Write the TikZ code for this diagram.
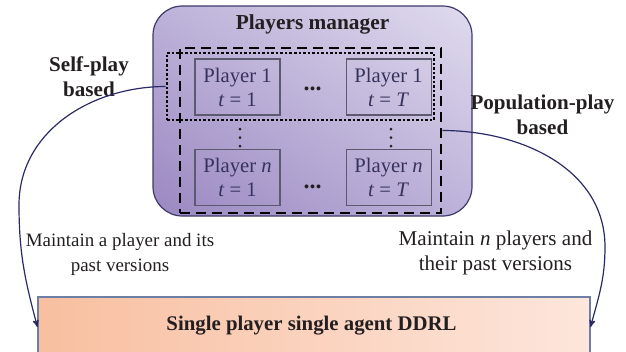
\documentclass[tikz,border=0pt]{standalone}
\usepackage{fontspec}
\setmainfont{Liberation Serif}
\usepackage{xcolor}
\usetikzlibrary{arrows}
\usetikzlibrary{positioning}
\usetikzlibrary{shadings}
\definecolor{mgrdark}{HTML}{9A87C1}
\definecolor{mgrmid}{HTML}{BDB2D9}
\definecolor{mgrlight}{HTML}{E0DBEE}
\definecolor{mgrborder}{HTML}{3E3A6B}
\definecolor{plgrey}{HTML}{5C5A6E}
\definecolor{pltext}{HTML}{35325C}
\definecolor{txtdark}{HTML}{231F20}
\definecolor{arrnavy}{HTML}{2A2A66}
\definecolor{ddrlleft}{HTML}{F8BFA0}
\definecolor{ddrlright}{HTML}{FDE6DC}
\definecolor{ddrlborder}{HTML}{6E7FA6}

\begin{document}
\begin{tikzpicture}[x=0.75pt,y=0.75pt,>=stealth',
  player/.style={rectangle,draw=plgrey,line width=0.8pt,minimum width=63.75pt,
    minimum height=42pt,align=center,text=pltext,inner sep=0pt,
    font=\fontsize{15.5}{18}\selectfont},
  side label/.style={align=center,text=txtdark,
    font=\fontsize{15.8}{18.75}\selectfont\bfseries},
  note/.style={align=center,text=txtdark,font=\fontsize{15.8}{18.75}\selectfont},
  dots/.style={text=txtdark,font=\fontsize{18}{18}\selectfont\bfseries},
  link/.style={->,draw=arrnavy,line width=0.9pt}]
  \useasboundingbox (0,-351) rectangle (626,0);
  \clip (0,-351) rectangle (626,0);

  % players manager
  \node[rectangle,rounded corners=22pt,draw=mgrborder,line width=0.9pt,
    upper left=mgrmid,upper right=mgrlight,lower left=mgrdark,lower right=mgrmid,
    minimum width=239.25pt,minimum height=157.5pt] (mgr) at (312.5,-111) {};
  \node[text=txtdark,font=\fontsize{16}{19}\selectfont\bfseries] (title) at (312.5,-24) {Players manager};

  \node[player] (p11) at (237.5,-87) {Player 1\\\textit{t} = 1};
  \node[player] (p1T) [right=48.75pt of p11] {Player 1\\\textit{t} = \textit{T}};
  \node[player] (pn1) [below=24.75pt of p11] {Player \textit{n}\\\textit{t} = 1};
  \node[player] (pnT) [right=48.75pt of pn1] {Player \textit{n}\\\textit{t} = \textit{T}};

  \node[dots,anchor=base] (hdots1) at (312.5,-90) {...};
  \node[dots,anchor=base] (hdots2) at (312.5,-188) {...};
  % vertical dots
  \foreach \x in {240,391}
    \foreach \y in {-129,-137.5,-146}
      \fill[txtdark] (\x,\y) circle (1.5);

  % self-play and population-play groups
  \node[rectangle,draw=black,line width=2pt,dash pattern=on 1.9pt off 1.5pt,
    minimum width=200.25pt,minimum height=50.25pt] (selfbox) at (300.5,-86.5) {};
  \node[rectangle,draw=black,line width=2pt,dash pattern=on 7.5pt off 4.5pt,
    minimum width=195.75pt,minimum height=123.75pt] (popbox) at (310.5,-130.5) {};

  \node[side label] (selflab) at (89,-77) {Self-play\\based};
  \node[side label] (poplab) at (542.5,-115) {Population-play\\based};
  \node[note,font=\fontsize{14.2}{18.75}\selectfont] (selfnote) at (120,-254) {Maintain a player and its\\past versions};
  \node[note] (popnote) at (495.5,-253) {Maintain \textit{n} players and\\their past versions};

  % single agent DDRL
  \node[rectangle,draw=ddrlborder,line width=0.8pt,left color=ddrlleft,right color=ddrlright,
    minimum width=414pt,minimum height=45pt] (ddrl) at (314,-327) {};
  \node[text=txtdark,font=\fontsize{15.6}{18}\selectfont\bfseries] (ddrltext) at (311.5,-326) {Single player single agent DDRL};

  \coordinate (selfbend) at (19,-205);
  \coordinate (popbend) at (605,-247);
  \draw[link] (selfbox.west) to[out=180,in=90] (selfbend) to[out=-90,in=105] (ddrl.west);
  \draw[link] (popbox.east) to[out=0,in=90] (popbend) to[out=-90,in=75] (ddrl.east);
\end{tikzpicture}
\end{document}
